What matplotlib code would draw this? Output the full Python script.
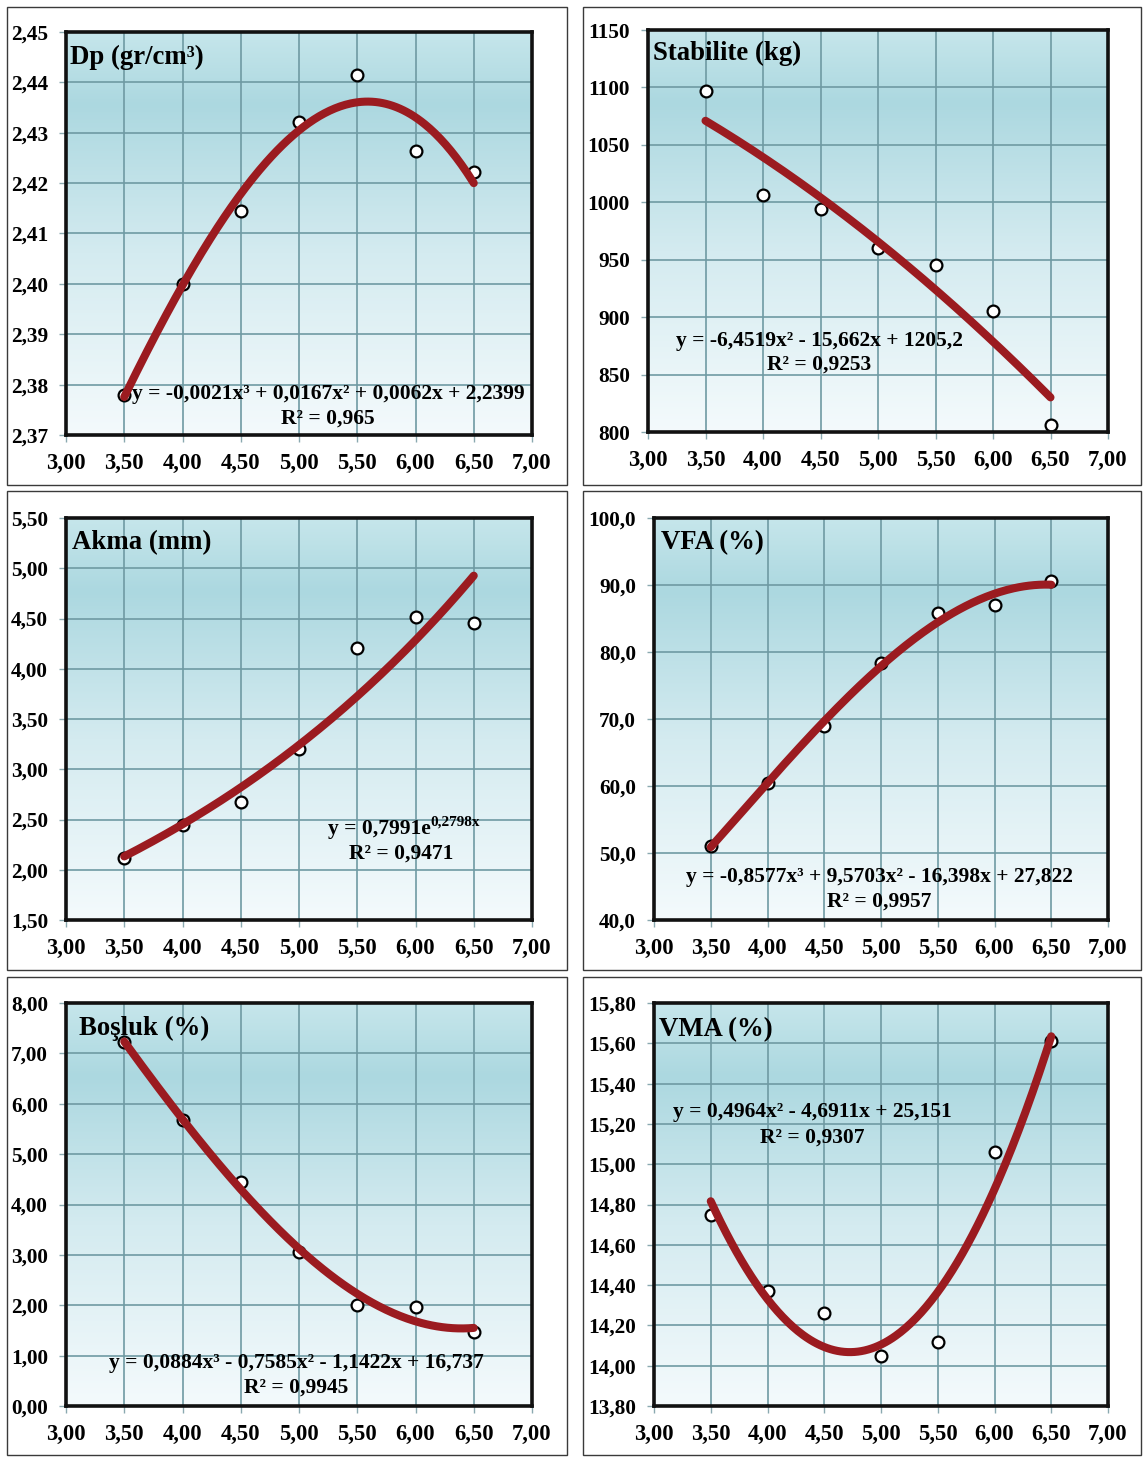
import numpy as np
import matplotlib
matplotlib.use("Agg")
import matplotlib.pyplot as plt
from matplotlib.colors import LinearSegmentedColormap
from matplotlib.patches import Rectangle
from matplotlib.ticker import FuncFormatter, MultipleLocator

plt.rcParams['font.family'] = ['Liberation Serif', 'DejaVu Serif']
plt.rcParams['font.weight'] = 'bold'

# ---------------- data ----------------
bitumen = [3.5, 4.0, 4.5, 5.0, 5.5, 6.0, 6.5]
dp = [2.378, 2.400, 2.4145, 2.4322, 2.4415, 2.4263, 2.4222]
stabilite = [1097, 1006, 994, 960, 945, 905, 806]
akma = [2.12, 2.45, 2.67, 3.20, 4.21, 4.51, 4.46]
vfa = [51.0, 60.5, 68.9, 78.3, 85.8, 87.0, 90.6]
bosluk = [7.22, 5.67, 4.45, 3.05, 2.00, 1.96, 1.46]
vma = [14.75, 14.37, 14.26, 14.05, 14.12, 15.06, 15.61]

titles = ["Dp (gr/cm³)", "Stabilite (kg)", "Akma (mm)", "VFA (%)", "Boşluk (%)", "VMA (%)"]
eq_lines = [
    ("y = -0,0021x³ + 0,0167x² + 0,0062x + 2,2399", "R² = 0,965"),
    ("y = -6,4519x² - 15,662x + 1205,2", "R² = 0,9253"),
    ("y = 0,7991e", "R² = 0,9471"),
    ("y = -0,8577x³ + 9,5703x² - 16,398x + 27,822", "R² = 0,9957"),
    ("y = 0,0884x³ - 0,7585x² - 1,1422x + 16,737", "R² = 0,9945"),
    ("y = 0,4964x² - 4,6911x + 25,151", "R² = 0,9307"),
]
akma_exponent = "0,2798x"
series = [dp, stabilite, akma, vfa, bosluk, vma]
fit_kind = ["poly3", "poly2", "exp", "poly3", "poly3", "poly2"]
y_limits = [(2.37, 2.45), (800, 1150), (1.50, 5.50), (40.0, 100.0), (0.0, 8.0), (13.80, 15.80)]
y_steps = [0.01, 50, 0.5, 10.0, 1.0, 0.2]
y_decimals = [2, 0, 2, 1, 2, 2]
x_limits = (3.0, 7.0)

# layout (pixels)
W, H = 1143, 1457
plot_boxes = [  # left, top, right, bottom
    (66, 32, 532, 435), (648, 30, 1108, 432),
    (66, 518, 532, 920), (654, 518, 1108, 920),
    (66, 1003, 532, 1406), (654, 1003, 1108, 1406),
]
outer_boxes = [
    (7, 7, 567, 485), (583, 7, 1141, 485),
    (7, 491, 567, 970), (583, 491, 1141, 970),
    (7, 977, 567, 1455), (583, 977, 1141, 1455),
]
title_pos = [(0.008, 0.938), (0.010, 0.942), (0.013, 0.938), (0.016, 0.938), (0.028, 0.938), (0.011, 0.935)]
eq_pos = [(0.562, 0.102, 0.040), (0.372, 0.226, 0.167), (0.719, 0.226, 0.164),
          (0.496, 0.107, 0.045), (0.494, 0.107, 0.045), (0.348, 0.730, 0.667)]

grad = LinearSegmentedColormap.from_list(
    "bg", [(0.0, "#f4fafc"), (0.45, "#d4ebf0"), (0.82, "#acd8e0"), (1.0, "#c6e6eb")])

fig = plt.figure(figsize=(W / 100, H / 100), dpi=100)
fig.patch.set_facecolor("white")

for (l, t, r, b) in outer_boxes:
    fig.add_artist(Rectangle((l / W, 1 - b / H), (r - l) / W, (b - t) / H,
                             transform=fig.transFigure, fill=False,
                             edgecolor="#3a3a3a", linewidth=1.0, zorder=0))

for i in range(6):
    l, t, r, b = plot_boxes[i]
    ax = fig.add_axes([l / W, 1 - b / H, (r - l) / W, (b - t) / H])
    ax.set_facecolor("none")
    g = np.linspace(0, 1, 256).reshape(-1, 1)
    ax.imshow(g, cmap=grad, origin="lower", extent=[0, 1, 0, 1], transform=ax.transAxes,
              aspect="auto", zorder=0)
    ax.set_xlim(*x_limits)
    ax.set_ylim(*y_limits[i])
    ax.xaxis.set_major_locator(MultipleLocator(0.5))
    ax.yaxis.set_major_locator(MultipleLocator(y_steps[i]))
    ax.xaxis.set_major_formatter(FuncFormatter(lambda v, p: f"{v:.2f}".replace(".", ",")))
    d = y_decimals[i]
    ax.yaxis.set_major_formatter(FuncFormatter(lambda v, p, d=d: f"{v:.{d}f}".replace(".", ",")))
    ax.grid(True, color="#6f9aa3", linewidth=1.2, zorder=1)
    ax.set_axisbelow(True)
    for s in ax.spines.values():
        s.set_linewidth(2.6)
        s.set_color("#111111")
        s.set_zorder(5)
    ax.tick_params(axis="both", direction="out", length=5, width=1, color="#8aa9b0")
    ax.tick_params(axis="x", pad=8, labelsize=16.3)
    ax.tick_params(axis="y", pad=8, labelsize=15.3)
    for lab in ax.get_xticklabels() + ax.get_yticklabels():
        lab.set_fontweight("bold")

    x = np.array(bitumen)
    y = np.array(series[i], dtype=float)
    xs = np.linspace(x.min(), x.max(), 200)
    if fit_kind[i] == "exp":
        k, lna = np.polyfit(x, np.log(y), 1)
        ys = np.exp(lna) * np.exp(k * xs)
    else:
        deg = 3 if fit_kind[i] == "poly3" else 2
        ys = np.polyval(np.polyfit(x, y, deg), xs)

    ax.plot(x, y, linestyle="none", marker="o", markersize=8.5, markerfacecolor="white",
            markeredgecolor="black", markeredgewidth=1.6, zorder=3, clip_on=False)
    ax.plot(xs, ys, color="#9b1b20", linewidth=5.8, solid_capstyle="round", zorder=4)

    ax.text(title_pos[i][0], title_pos[i][1], titles[i], transform=ax.transAxes,
            fontsize=19.3, fontweight="bold", ha="left", va="center", zorder=6)
    ex, ey1, ey2 = eq_pos[i]
    if fit_kind[i] == "exp":
        t1 = ax.text(0.562, ey1, eq_lines[i][0], transform=ax.transAxes, fontsize=15.5,
                     fontweight="bold", ha="left", va="center", zorder=6)
        ax.annotate(akma_exponent, xy=(1.0, 0.55), xycoords=t1, fontsize=11,
                    fontweight="bold", ha="left", va="bottom", zorder=6)
    else:
        ax.text(ex, ey1, eq_lines[i][0], transform=ax.transAxes, fontsize=15.5,
                fontweight="bold", ha="center", va="center", zorder=6)
    ax.text(ex, ey2, eq_lines[i][1], transform=ax.transAxes, fontsize=15.5,
            fontweight="bold", ha="center", va="center", zorder=6)

fig.savefig("out.png", dpi=100, facecolor="white")
